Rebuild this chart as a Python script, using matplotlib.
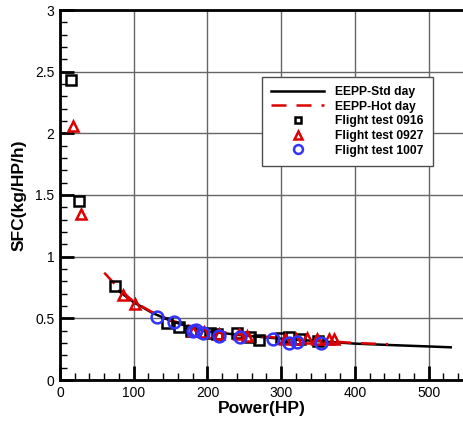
import matplotlib
matplotlib.use("Agg")
import matplotlib.pyplot as plt
from matplotlib.ticker import MultipleLocator

plt.rcParams['font.family'] = ['Liberation Sans', 'DejaVu Sans']

# EEPP curves
std_x = [80, 100, 125, 150, 175, 200, 250, 300, 350, 400, 450, 500, 530]
std_y = [0.72, 0.63, 0.545, 0.48, 0.43, 0.395, 0.36, 0.335, 0.315, 0.295, 0.283, 0.272, 0.265]
hot_x = [60, 80, 100, 125, 150, 175, 200, 250, 300, 350, 400, 445]
hot_y = [0.87, 0.74, 0.635, 0.55, 0.485, 0.44, 0.405, 0.365, 0.34, 0.32, 0.30, 0.29]

# Flight tests
ft0916_x = [15, 26, 75, 145, 161, 178, 204, 213, 240, 258, 270, 300, 310, 325, 350]
ft0916_y = [2.43, 1.455, 0.76, 0.465, 0.43, 0.40, 0.385, 0.37, 0.38, 0.345, 0.325, 0.34, 0.35, 0.33, 0.32]
ft0927_x = [17, 29, 86, 102, 180, 195, 215, 243, 253, 305, 320, 335, 348, 365, 372]
ft0927_y = [2.06, 1.345, 0.69, 0.615, 0.40, 0.39, 0.37, 0.37, 0.36, 0.33, 0.33, 0.34, 0.33, 0.33, 0.33]
ft1007_x = [131, 154, 181, 184, 194, 216, 244, 289, 310, 321, 354]
ft1007_y = [0.51, 0.47, 0.40, 0.405, 0.38, 0.36, 0.35, 0.333, 0.30, 0.305, 0.30]

fig = plt.figure(figsize=(4.64, 4.21), dpi=100)
ax = fig.add_axes([60/464, 41/421, 404/464, 370/421])

ax.grid(True, which='major', color='0.4', linewidth=1.0)
ax.set_axisbelow(True)

ax.plot(std_x, std_y, color='black', lw=1.8, label='EEPP-Std day', zorder=3)
ax.plot(hot_x, hot_y, color='#dd0000', lw=1.8, ls=(0, (6, 4)), label='EEPP-Hot day', zorder=3)
ax.plot(ft0916_x, ft0916_y, ls='none', marker='s', ms=6.5, mfc='none', mec='black', mew=1.8,
        label='Flight test 0916', zorder=4)
ax.plot(ft0927_x, ft0927_y, ls='none', marker='^', ms=7, mfc='none', mec='#dd0000', mew=1.8,
        label='Flight test 0927', zorder=4)
ax.plot(ft1007_x, ft1007_y, ls='none', marker='o', ms=8.5, mfc='none', mec='#3333ff', mew=1.8,
        label='Flight test 1007', zorder=4)

ax.set_xlim(0, 548)
ax.set_ylim(0, 3)
ax.xaxis.set_major_locator(MultipleLocator(100))
ax.xaxis.set_minor_locator(MultipleLocator(20))
ax.yaxis.set_major_locator(MultipleLocator(0.5))
ax.yaxis.set_minor_locator(MultipleLocator(0.1))
ax.set_yticks([0, 0.5, 1, 1.5, 2, 2.5, 3])
ax.set_yticklabels(['0', '0.5', '1', '1.5', '2', '2.5', '3'])

ax.tick_params(which='major', direction='in', length=10, width=2, labelsize=10,
               top=False, right=False, pad=4)
ax.tick_params(which='minor', direction='in', length=5, width=1, top=False, right=False)
for s in ax.spines.values():
    s.set_linewidth(2)

ax.set_xlabel('Power(HP)', fontsize=12.5, fontweight='bold', labelpad=1)
ax.set_ylabel('SFC(kg/HP/h)', fontsize=12.5, fontweight='bold', labelpad=6)

leg = ax.legend(loc='upper left', bbox_to_anchor=(0.5, 0.819), borderaxespad=0,
                prop={'weight': 'bold', 'size': 8.7}, frameon=True, fancybox=False,
                edgecolor='0.3', framealpha=1, handlelength=4.4, borderpad=0.75,
                labelspacing=0.22, handletextpad=0.9, markerscale=0.75)
leg.get_frame().set_linewidth(1.0)

fig.savefig('out.png', dpi=100)
